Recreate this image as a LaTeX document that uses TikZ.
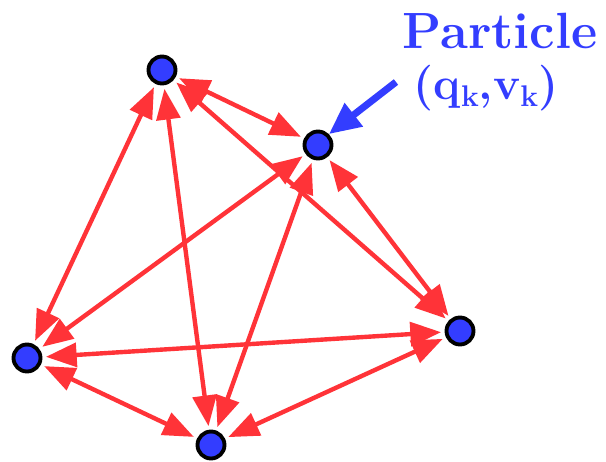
\documentclass[tikz,border=0pt]{standalone}
\usepackage{xcolor}
\usepackage{tikz}
\usetikzlibrary{arrows.meta, positioning, calc}

\definecolor{pblue}{RGB}{51,61,255}
\definecolor{lred}{RGB}{255,51,56}

\begin{document}
\begin{tikzpicture}[x=0.02cm, y=-0.02cm,
    pnode/.style={circle, draw=black, fill=pblue, line width=2.2pt,
        minimum size=0.54cm, inner sep=0pt},
    link/.style={lred, line width=2.5pt,
        {Triangle[length=17.5pt, width=13.5pt]}-{Triangle[length=17.5pt, width=13.5pt]},
        shorten <=2pt, shorten >=2pt},
    ptext/.style={pblue, font=\fontsize{29}{31}\selectfont\bfseries, anchor=base}]
    % Frame
    \useasboundingbox (0,0) rectangle (606,461);

    % Particles
    \node[pnode] (A) at (162,70) {};
    \node[pnode] (B) at (318,145) {};
    \node[pnode] (C) at (460,331) {};
    \node[pnode] (D) at (27,358) {};
    \node[pnode] (E) at (211,445) {};

    % Interactions
    \draw[link] (A) -- (B);
    \draw[link] (A) -- (C);
    \draw[link] (A) -- (D);
    \draw[link] (A) -- (E);
    \draw[link] (B) -- (C);
    \draw[link] (B) -- (D);
    \draw[link] (B) -- (E);
    \draw[link] (D) -- (C);
    \draw[link] (D) -- (E);
    \draw[link] (E) -- (C);

    % Label
    \node[ptext] (lab) at (500,48) {Particle};
    \node[ptext, font=\fontsize{26}{28}\selectfont\bfseries] (state) at (486,99)
        {(q\raisebox{-4pt}{\fontsize{17}{19}\selectfont\bfseries k},v\raisebox{-4pt}{\fontsize{17}{19}\selectfont\bfseries k})};
    \coordinate (tail) at (396,82);
    \draw[pblue, line width=4pt, -{Triangle[length=18pt, width=16pt]}]
        (tail) -- (B.north east);
\end{tikzpicture}
\end{document}
